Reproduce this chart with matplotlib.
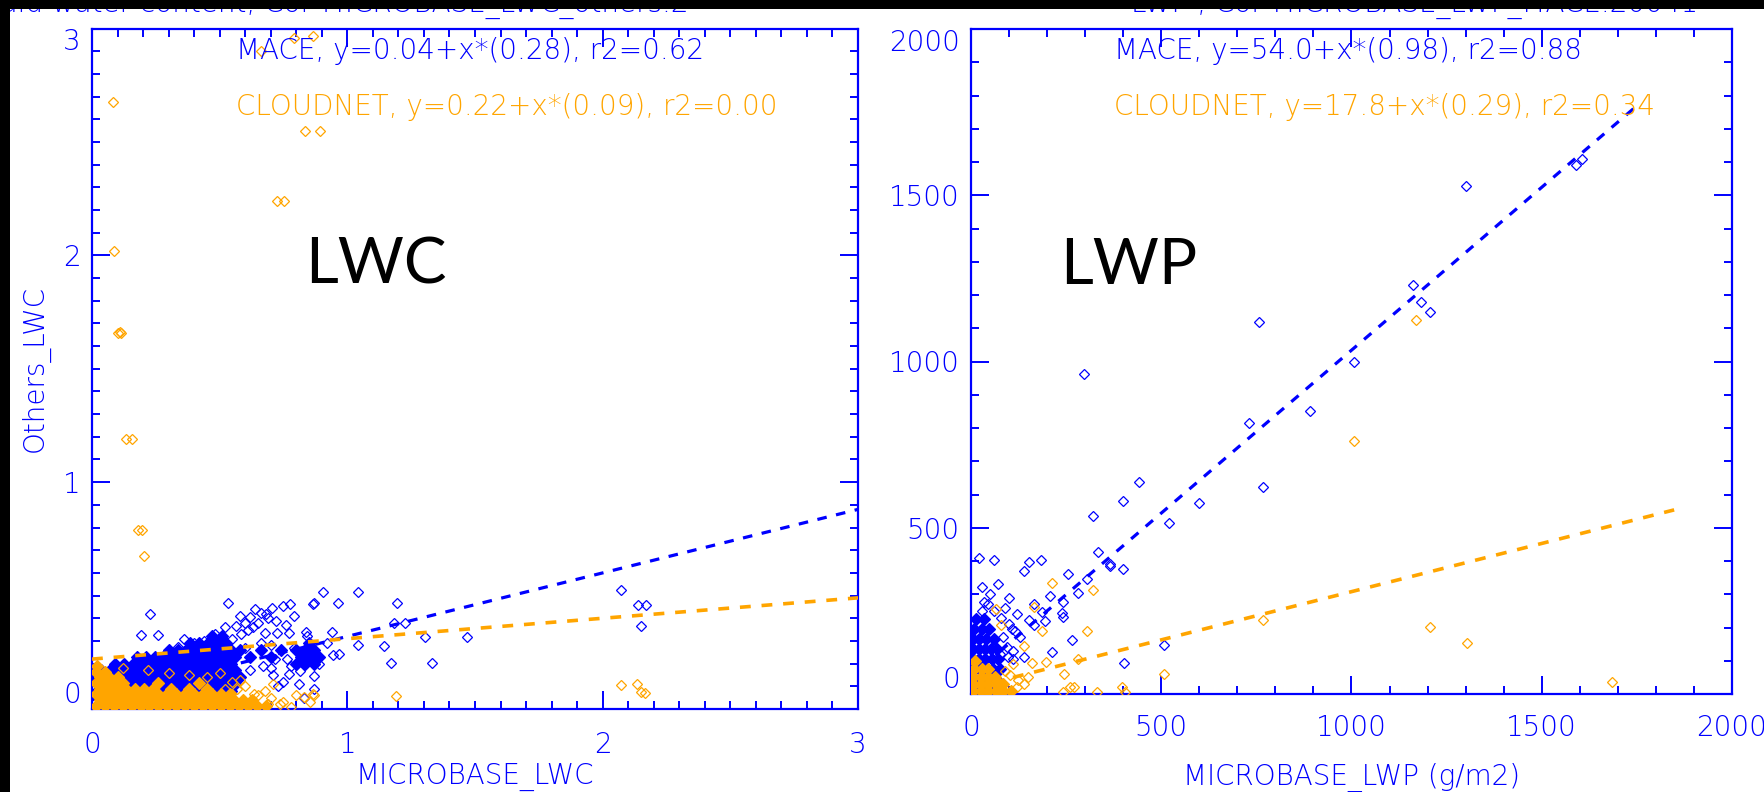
import matplotlib
matplotlib.use("Agg")
import matplotlib.pyplot as plt
from matplotlib.ticker import MultipleLocator
from matplotlib.patches import Rectangle

BLUE = "#0000ff"
TXT = "#0000ff"
ORANGE = "#ffa500"

# ---------------- LWC panel data ----------------
lwc_mace_x = [2.07, 2.14, 2.17, 2.15, 1.04, 0.906, 0.963, 0.871, 1.193, 1.181, 1.226, 1.305, 1.467,
              1.143, 1.04, 1.17, 1.332, 0.94, 0.945, 0.533, 0.229, 0.19, 0.258, 0.337, 0.62, 0.66,
              0.705, 0.75, 0.776, 0.565, 0.6, 0.678, 0.724, 0.77, 0.842, 0.966, 0.773, 0.816, 0.868,
              0.81, 0.718, 0.763, 0.865, 0.64, 0.69, 0.585, 0.63, 0.66, 0.70, 0.74, 0.79, 0.85, 0.89,
              0.82, 0.60, 0.55, 0.52, 0.48, 0.44, 0.40, 0.36, 0.70, 0.75, 0.87, 0.83,
              0.58, 0.61, 0.65, 0.68, 0.72, 0.76, 0.79, 0.67, 0.71, 0.62, 0.57, 0.73, 0.78, 0.84, 0.92]
lwc_mace_y = [0.524, 0.458, 0.458, 0.366, 0.514, 0.514, 0.466, 0.466, 0.466, 0.38, 0.38, 0.316, 0.316,
              0.279, 0.28, 0.201, 0.201, 0.34, 0.238, 0.468, 0.417, 0.326, 0.326, 0.274, 0.405, 0.423,
              0.445, 0.455, 0.463, 0.367, 0.379, 0.334, 0.334, 0.334, 0.322, 0.244, 0.156, 0.167, 0.145,
              0.111, 0.222, 0.222, 0.463, 0.44, 0.40, 0.33, 0.36, 0.29, 0.28, 0.26, 0.27, 0.23, 0.20,
              0.24, 0.27, 0.31, 0.36, 0.33, 0.30, 0.29, 0.31, 0.18, 0.12, 0.09, 0.05,
              0.41, 0.35, 0.38, 0.42, 0.39, 0.37, 0.41, 0.19, 0.15, 0.17, 0.14, 0.10, 0.19, 0.34, 0.29]
# densely overlapping MACE points (drawn filled), one list of x values per y level
lwc_mace_core_rows = {
    0.08: [0.02, 0.055, 0.09, 0.125, 0.16, 0.195, 0.23, 0.265, 0.30, 0.335, 0.37, 0.405, 0.44, 0.475, 0.51, 0.545],
    0.11: [0.035, 0.07, 0.105, 0.14, 0.175, 0.21, 0.245, 0.28, 0.315, 0.35, 0.385, 0.42, 0.455, 0.49, 0.525, 0.56],
    0.14: [0.02, 0.055, 0.09, 0.125, 0.16, 0.195, 0.23, 0.265, 0.30, 0.335, 0.37, 0.405, 0.44, 0.475, 0.51, 0.545, 0.58],
    0.17: [0.035, 0.07, 0.105, 0.14, 0.175, 0.21, 0.245, 0.28, 0.315, 0.35, 0.385, 0.42, 0.455, 0.49, 0.525, 0.56],
    0.20: [0.09, 0.125, 0.16, 0.195, 0.23, 0.265, 0.30, 0.335, 0.37, 0.405, 0.44, 0.475, 0.51, 0.545, 0.80, 0.835, 0.87],
    0.23: [0.175, 0.21, 0.245, 0.28, 0.315, 0.35, 0.385, 0.42, 0.455, 0.49, 0.525, 0.56, 0.62, 0.70, 0.82, 0.855, 0.89],
    0.26: [0.30, 0.335, 0.37, 0.405, 0.44, 0.475, 0.51, 0.545, 0.58, 0.66, 0.74, 0.80, 0.835, 0.87],
    0.29: [0.385, 0.42, 0.455, 0.49, 0.525, 0.85],
    0.32: [0.47, 0.51],
}
lwc_cloud_x = [0.082, 0.088, 0.10, 0.108, 0.115, 0.135, 0.155, 0.18, 0.195, 0.204, 0.835, 0.891,
               0.724, 0.753, 0.66, 0.79, 0.865, 2.07, 2.135, 2.15, 2.165, 1.19, 0.866,
               0.829, 0.868, 0.855, 0.678, 0.633, 0.737, 0.567, 0.55, 0.60, 0.65, 0.70, 0.75, 0.80,
               0.5, 0.45, 0.38, 0.3, 0.22, 0.12, 0.62, 0.78, 0.71, 0.58, 0.52, 0.69]
lwc_cloud_y = [2.675, 2.02, 1.656, 1.66, 1.656, 1.19, 1.19, 0.79, 0.79, 0.673, 2.55, 2.55,
               2.24, 2.24, 2.90, 2.96, 2.965, 0.106, 0.109, 0.076, 0.072, 0.059, 0.066,
               0.055, 0.062, 0.033, 0.078, 0.066, 0.021, 0.088, 0.12, 0.10, 0.06, 0.05, 0.03, 0.06,
               0.16, 0.14, 0.15, 0.16, 0.17, 0.18, 0.02, 0.01, 0.11, 0.13, 0.09, 0.02]
lwc_cloud_core_rows = {
    0.015: [0.015, 0.05, 0.085, 0.12, 0.155, 0.19, 0.225, 0.26, 0.295, 0.33, 0.365, 0.40, 0.435, 0.47, 0.505,
            0.54, 0.575, 0.61, 0.645, 0.68],
    0.04: [0.03, 0.065, 0.10, 0.135, 0.17, 0.205, 0.24, 0.275, 0.31, 0.345, 0.38, 0.415, 0.45, 0.485, 0.52,
           0.555, 0.59, 0.625],
    0.065: [0.015, 0.05, 0.085, 0.12, 0.155, 0.19, 0.225, 0.26, 0.295, 0.33, 0.365, 0.40, 0.435, 0.47, 0.505, 0.54],
    0.09: [0.03, 0.065, 0.10, 0.135, 0.17, 0.205, 0.24, 0.31, 0.38, 0.45],
    0.115: [0.015, 0.05, 0.085, 0.12, 0.26, 0.42],
    0.14: [0.03, 0.065, 0.10],
    0.165: [0.015, 0.05],
    0.19: [0.02],
}

# ---------------- LWP panel data ----------------
lwp_mace_x = [1300, 1590, 1605, 1162, 1183, 1205, 1007, 756, 731, 767, 891, 297, 599, 520, 441, 399,
              333, 365, 365, 400, 320, 304, 282, 254, 207, 241, 242, 238, 166, 186, 195, 166, 153, 109,
              265, 212, 98, 111, 403, 507, 22, 61, 28, 33, 140, 153, 183,
              85, 95, 80, 60, 90, 100, 50, 70, 100, 120, 130, 110, 140, 75, 45, 30, 115]
lwp_mace_y = [1529, 1590, 1610, 1231, 1180, 1150, 997, 1119, 814, 624, 852, 963, 575, 513, 639, 581,
              428, 392, 385, 375, 536, 346, 303, 360, 295, 278, 231, 245, 272, 247, 220, 207, 222, 194,
              162, 127, 112, 104, 94, 147, 408, 403, 323, 276, 370, 398, 403,
              170, 140, 230, 250, 260, 210, 300, 330, 290, 240, 170, 130, 110, 120, 270, 250, 190]
lwp_mace_core_rows = {
    15: [5, 25, 45],
    45: [5, 25, 45, 65],
    75: [5, 22, 40, 58, 75],
    105: [5, 20, 38, 55, 72],
    135: [5, 20, 36, 52, 68],
    165: [6, 22, 40, 60],
    195: [8, 28, 48],
    225: [12, 35],
}
lwp_cloud_x = [212, 320, 67, 78, 165, 186, 304, 140, 161, 196, 245, 282, 507, 767, 1007, 398, 404,
               332, 260, 271, 243, 102, 124, 150, 8, 1206, 1304, 1685, 1170, 90, 110, 120, 140]
lwp_cloud_y = [333, 313, 257, 208, 263, 188, 190, 143, 94, 97, 60, 104, 60, 223, 761, 22, 7,
               6, 22, 22, 5, 56, 41, 50, 97, 202, 154, 37, 1126, 70, 90, 20, 30]
lwp_cloud_core_rows = {
    8: [5, 25, 45, 65, 85, 105],
    30: [5, 25, 45, 65, 85],
    52: [5, 25, 45, 62],
    75: [8, 28, 45],
    98: [10],
}

# fit results (intercept, slope, r2) and x-range of the fit lines
lwc_fit_mace = (0.04, 0.28, 0.62)
lwc_fit_cloud = (0.22, 0.09, 0.00)
lwc_fit_range = [0.0, 3.0]
lwp_fit_mace = (54.0, 0.98, 0.88)
lwp_fit_cloud = (17.8, 0.29, 0.34)
lwp_fit_range_mace = [0.0, 1750.0]
lwp_fit_range_cloud = [0.0, 1848.0]


def rows_to_xy(rows):
    xs, ys = [], []
    for yv, xlist in rows.items():
        xs += xlist
        ys += [yv] * len(xlist)
    return xs, ys


W, H = 1765, 792
fig = plt.figure(figsize=(W / 100, H / 100), dpi=100)
fig.patch.set_facecolor("white")


def fx(px):
    return px / W


def fy(py):
    return 1 - py / H


ax1 = fig.add_axes([fx(92), fy(709), fx(858) - fx(92), fy(28.5) - fy(709)])
ax2 = fig.add_axes([fx(971), fy(694), fx(1732) - fx(971), fy(29) - fy(694)])

FS = 20
open_kw = dict(linestyle="none", marker="D", ms=5.3, mew=0.9, mfc="none")
core_kw = dict(linestyle="none", marker="D", ms=5.8, mew=0.9)


def draw(ax, mx, my, mrows, cx, cy, crows, fit_m, fit_c, rng_m, rng_c, dash):
    mcx, mcy = rows_to_xy(mrows)
    ccx, ccy = rows_to_xy(crows)
    ax.plot(mcx, mcy, color=BLUE, mfc=BLUE, **core_kw, zorder=2)
    ax.plot(mx, my, color=BLUE, **open_kw, zorder=2)
    a, b, _ = fit_m
    ax.plot(rng_m, [a + b * v for v in rng_m], color=BLUE, lw=2.3, ls=(0, dash), zorder=2.5)
    ax.plot(ccx, ccy, color=ORANGE, mfc=ORANGE, **core_kw, zorder=3)
    ax.plot(cx, cy, color=ORANGE, **open_kw, zorder=3)
    a, b, _ = fit_c
    ax.plot(rng_c, [a + b * v for v in rng_c], color=ORANGE, lw=2.6, ls=(0, dash), zorder=4)


draw(ax1, lwc_mace_x, lwc_mace_y, lwc_mace_core_rows, lwc_cloud_x, lwc_cloud_y, lwc_cloud_core_rows,
     lwc_fit_mace, lwc_fit_cloud, lwc_fit_range, lwc_fit_range, (3.0, 3.0))
draw(ax2, lwp_mace_x, lwp_mace_y, lwp_mace_core_rows, lwp_cloud_x, lwp_cloud_y, lwp_cloud_core_rows,
     lwp_fit_mace, lwp_fit_cloud, lwp_fit_range_mace, lwp_fit_range_cloud, (3.0, 3.0))


def style(ax, lim, major, minor, xpad):
    ax.set_xlim(lim)
    ax.set_ylim(lim)
    ax.set_xticks(major)
    ax.set_yticks(major)
    ax.xaxis.set_minor_locator(MultipleLocator(minor))
    ax.yaxis.set_minor_locator(MultipleLocator(minor))
    ax.tick_params(which="both", direction="in", top=True, right=True, color=BLUE,
                   width=1.4, labelcolor=TXT, labelsize=FS)
    ax.tick_params(which="major", length=13)
    ax.tick_params(which="minor", length=5.8)
    ax.tick_params(axis="x", which="major", pad=xpad)
    ax.tick_params(axis="y", which="major", pad=8)
    for s in ax.spines.values():
        s.set_color(BLUE)
        s.set_linewidth(1.6)
    ax.set_xticklabels([str(v) for v in major], fontweight="light")
    ax.set_yticklabels([str(v) for v in major], fontweight="light")
    ticks = ax.yaxis.get_major_ticks()
    ticks[0].label1.set_va("bottom")
    ticks[-1].label1.set_va("top")


style(ax1, (0, 3), [0, 1, 2, 3], 0.1, 16)
style(ax2, (0, 2000), [0, 500, 1000, 1500, 2000], 100, 14.5)

ax1.set_xlabel("MICROBASE_LWC", fontsize=FS, color=TXT, fontweight="light")
ax1.xaxis.set_label_coords(0.5, (709 - 763) / 680.5)
ax1.set_ylabel("Others_LWC", fontsize=FS, color=TXT, fontweight="light")
ax1.yaxis.set_label_coords((50 - 92) / 766, 0.5)
ax2.set_xlabel("MICROBASE_LWP (g/m2)", fontsize=FS, color=TXT, fontweight="light")
ax2.xaxis.set_label_coords(0.5, (694 - 763) / 665)


def fit_text(ax, name, fit, fmt, ypos, color):
    a, b, r2 = fit
    s = f"{name}, y={a:{fmt}}+x*({b:.2f}), r2={r2:.2f}"
    ax.text(0.188, ypos, s, transform=ax.transAxes, fontsize=FS, color=color,
            ha="left", va="center", zorder=5, fontweight="light")


fit_text(ax1, "MACE", lwc_fit_mace, ".2f", 0.967, TXT)
fit_text(ax1, "CLOUDNET", lwc_fit_cloud, ".2f", 0.885, ORANGE)
fit_text(ax2, "MACE", lwp_fit_mace, ".1f", 0.967, TXT)
fit_text(ax2, "CLOUDNET", lwp_fit_cloud, ".1f", 0.883, ORANGE)

# big slide annotations
fig.text(fx(305), fy(284), "LWC", fontsize=46, family="Lato", color="black",
         ha="left", va="baseline")
fig.text(fx(1060), fy(284), "LWP", fontsize=46, family="Lato", color="black",
         ha="left", va="baseline")

# partially hidden titles + black screen frame
fig.text(fx(0), fy(12), "uid water content, Cor MICROBASE_LWC_others.2", fontsize=FS,
         color=TXT, ha="left", va="baseline", fontweight="light")
fig.text(fx(1131), fy(12), "LWP , Cor MICROBASE_LWP_MACE.20041", fontsize=FS,
         color=TXT, ha="left", va="baseline", fontweight="light")
fig.patches.append(Rectangle((0, fy(9)), 1, 1 - fy(9), transform=fig.transFigure,
                             facecolor="black", edgecolor="none", zorder=10))
fig.patches.append(Rectangle((0, 0), fx(10), 1, transform=fig.transFigure,
                             facecolor="black", edgecolor="none", zorder=10))

fig.savefig("out.png", dpi=100)
